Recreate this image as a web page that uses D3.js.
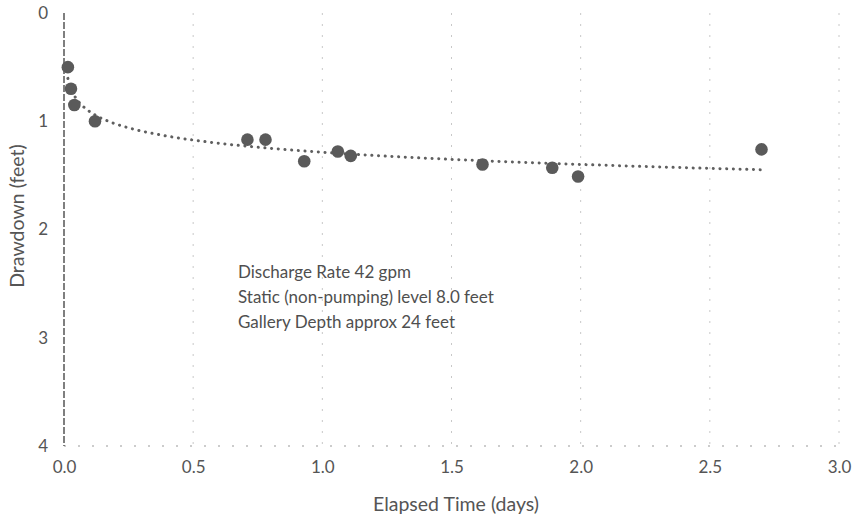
<!DOCTYPE html>
<html>
<head>
<meta charset="utf-8">
<script src="https://cdn.jsdelivr.net/npm/d3@7"></script>
<style>
  body { margin: 0; background: #fff; }
  svg text { font-family: Lato, 'Open Sans', sans-serif; }
</style>
</head>
<body>
<svg width="857" height="522"></svg>
<script>
// elapsed time (days) and drawdown (feet)
const days = [0.015, 0.027, 0.04, 0.12, 0.71, 0.78, 0.93, 1.06, 1.11, 1.62, 1.89, 1.99, 2.70]
const drawdown = [0.50, 0.70, 0.85, 1.00, 1.17, 1.17, 1.37, 1.28, 1.32, 1.40, 1.43, 1.51, 1.26]
const xTicks = [0, 0.5, 1, 1.5, 2, 2.5, 3]
const yTicks = [0, 1, 2, 3, 4]
const notes = ['Discharge Rate 42 gpm', 'Static (non-pumping) level 8.0 feet', 'Gallery Depth approx 24 feet']

const data = days.map((d, i) => ({ x: d, y: drawdown[i] }))

const svg = d3.select('svg')
const margin = { top: 13, right: 18, bottom: 76, left: 64 }
const width = +svg.attr('width')
const height = +svg.attr('height')
const innerWidth = width - margin.left - margin.right
const innerHeight = height - margin.top - margin.bottom

const xScale = d3.scaleLinear().domain([0, 3]).range([0, innerWidth])
const yScale = d3.scaleLinear().domain([0, 4]).range([0, innerHeight])

const g = svg.append('g').attr('transform', `translate(${margin.left},${margin.top})`)

// vertical gridlines (faint, scanned look)
g.append('g').selectAll('line').data(xTicks.slice(1))
  .enter().append('line')
  .attr('x1', d => xScale(d)).attr('x2', d => xScale(d))
  .attr('y1', 0).attr('y2', innerHeight)
  .style('stroke', '#c8c8c8')
  .style('stroke-width', 1)
  .style('stroke-dasharray', '2,9')

// bottom line at y = 4
g.append('line')
  .attr('x1', 0).attr('x2', innerWidth)
  .attr('y1', yScale(4)).attr('y2', yScale(4))
  .style('stroke', '#999')
  .style('stroke-dasharray', '2,12')

// y axis line
g.append('line')
  .attr('x1', 0).attr('x2', 0)
  .attr('y1', 0).attr('y2', innerHeight)
  .style('stroke', '#555')
  .style('stroke-width', 1.5)
  .style('stroke-dasharray', '7,2')

const xAxis = d3.axisBottom(xScale).tickValues(xTicks).tickFormat(d3.format('.1f')).tickSize(0).tickPadding(15)
const xAxisG = g.append('g').attr('transform', `translate(0,${innerHeight})`).call(xAxis)
xAxisG.select('.domain').remove()
xAxisG.selectAll('text').style('font-size', '17px').style('fill', '#555')

const yAxis = d3.axisLeft(yScale).tickValues(yTicks).tickFormat(d3.format('d')).tickSize(0).tickPadding(16)
const yAxisG = g.append('g').call(yAxis)
yAxisG.select('.domain').remove()
yAxisG.selectAll('text').style('font-size', '17px').style('fill', '#555')

// axis titles
svg.append('text')
  .attr('x', 456)
  .attr('y', 511)
  .attr('text-anchor', 'middle')
  .style('font-size', '19.5px')
  .style('fill', '#555')
  .text('Elapsed Time (days)')

svg.append('text')
  .attr('transform', 'translate(24,216) rotate(-90)')
  .attr('text-anchor', 'middle')
  .style('font-size', '19.5px')
  .style('fill', '#555')
  .text('Drawdown (feet)')

// logarithmic trendline fitted to the points
const lx = data.map(d => Math.log(d.x))
const mx = d3.mean(lx)
const my = d3.mean(data, d => d.y)
const b = d3.sum(data, (d, i) => (lx[i] - mx) * (d.y - my)) / d3.sum(lx, v => (v - mx) * (v - mx))
const a = my - b * mx
const lo = d3.min(days), hi = d3.max(days)
const xs = d3.range(0, 201).map(i => lo * Math.pow(hi / lo, i / 200))
const line = d3.line().x(d => xScale(d)).y(d => yScale(a + b * Math.log(d))).curve(d3.curveMonotoneX)
g.append('path')
  .datum(xs)
  .attr('d', line)
  .style('fill', 'none')
  .style('stroke', '#5f5f5f')
  .style('stroke-width', 3)
  .style('stroke-linecap', 'round')
  .style('stroke-dasharray', '0.1,6.6')

g.selectAll('circle').data(data)
  .enter().append('circle')
  .attr('cx', d => xScale(d.x))
  .attr('cy', d => yScale(d.y))
  .attr('r', 6.3)
  .style('fill', '#5a5a5a')

// annotation
svg.append('g').selectAll('text').data(notes)
  .enter().append('text')
  .attr('x', 238)
  .attr('y', (d, i) => 278 + i * 25)
  .style('font-size', '17px')
  .style('fill', '#4f4f4f')
  .text(d => d)
</script>
</body>
</html>
